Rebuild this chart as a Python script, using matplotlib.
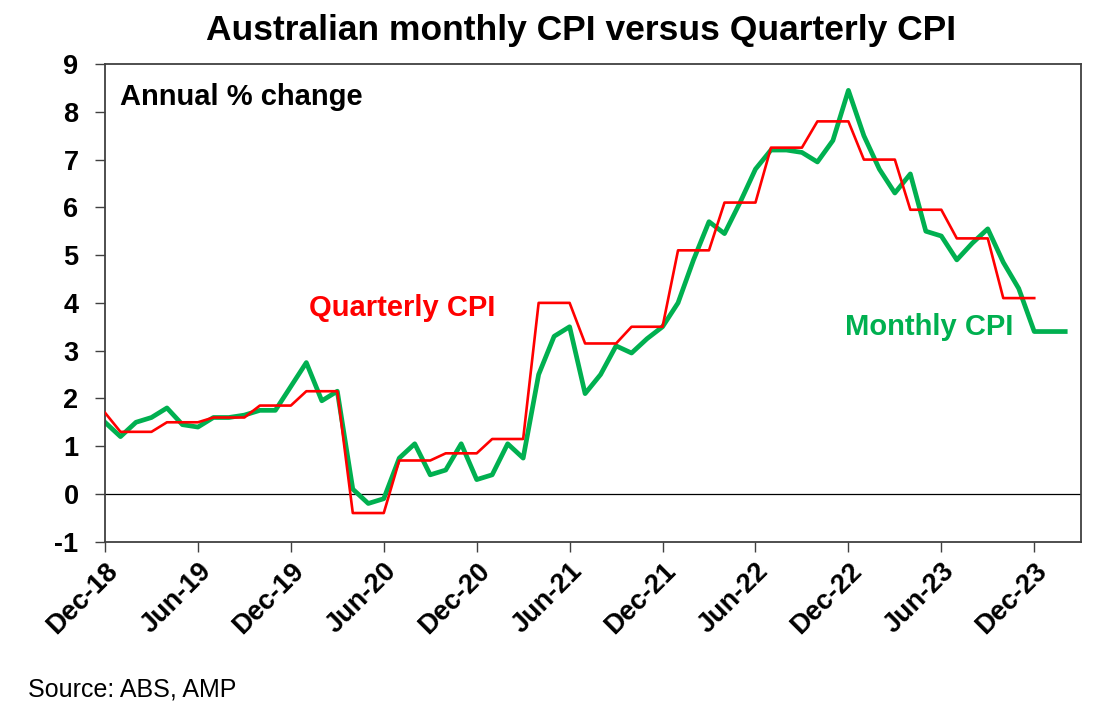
import matplotlib.pyplot as plt
import numpy as np

plt.rcParams['font.family'] = ['Liberation Sans', 'DejaVu Sans']
plt.rcParams['axes.unicode_minus'] = False

# monthly CPI indicator, annual % change, Dec-18 .. Feb-24
monthly_cpi = [
    1.5,                                                        # Dec-18
    1.2, 1.5, 1.6, 1.8, 1.45, 1.4, 1.6, 1.6, 1.65, 1.75, 1.75, 2.25,   # 2019
    2.75, 1.95, 2.15, 0.1, -0.2, -0.1, 0.75, 1.05, 0.4, 0.5, 1.05, 0.3,  # 2020
    0.4, 1.05, 0.75, 2.5, 3.3, 3.5, 2.1, 2.5, 3.1, 2.95, 3.25, 3.5,     # 2021
    4.0, 4.9, 5.7, 5.45, 6.1, 6.8, 7.2, 7.2, 7.15, 6.95, 7.4, 8.45,     # 2022
    7.5, 6.8, 6.3, 6.7, 5.5, 5.4, 4.9, 5.25, 5.55, 4.85, 4.3, 3.4,      # 2023
    3.4, 3.4,                                                   # 2024
]

# quarterly CPI, annual % change: Dec-18 then Mar-19 .. Dec-23
quarterly_cpi = [
    1.7,
    1.3, 1.5, 1.6, 1.85,
    2.15, -0.4, 0.7, 0.85,
    1.15, 4.0, 3.15, 3.5,
    5.1, 6.1, 7.25, 7.8,
    7.0, 5.95, 5.35, 4.1,
]

tick_labels = ['Dec-18', 'Jun-19', 'Dec-19', 'Jun-20', 'Dec-20', 'Jun-21',
               'Dec-21', 'Jun-22', 'Dec-22', 'Jun-23', 'Dec-23']

GREEN = '#00B050'
RED = '#FF0000'

# quarterly value held for each month of its quarter
q_monthly = np.concatenate([[quarterly_cpi[0]], np.repeat(quarterly_cpi[1:], 3)])
x_m = np.arange(len(monthly_cpi))
x_q = np.arange(len(q_monthly))

fig = plt.figure(figsize=(11.17, 7.15), dpi=100)
ax = fig.add_axes([0.094, 0.2424, 0.8735, 0.668])

ax.axhline(0, color='black', lw=0.9, zorder=1)
ax.plot(x_m, monthly_cpi, color=GREEN, lw=3.4, zorder=2)
ax.plot(x_q, q_monthly, color=RED, lw=1.9, zorder=3)

ax.set_xlim(0, 63)
ax.set_ylim(-1, 9)
ax.set_yticks(range(-1, 10))
ax.set_xticks(np.arange(0, 61, 6))
ax.set_xticklabels(tick_labels, rotation=45, ha='right', rotation_mode='anchor')

for lab in ax.get_xticklabels() + ax.get_yticklabels():
    lab.set_fontweight('bold')
ax.tick_params(axis='both', labelsize=19.5, direction='out', length=7,
               width=1.0, color='#404040')
ax.tick_params(axis='y', pad=12)
ax.tick_params(axis='x', pad=5)
for s in ax.spines.values():
    s.set_color('#404040')
    s.set_linewidth(1.3)

ax.text(0.015, 0.96, 'Annual % change', transform=ax.transAxes,
        fontsize=21, fontweight='bold', va='top', ha='left')
ax.text(13.2, 3.9, 'Quarterly CPI', color=RED, fontsize=21,
        fontweight='bold', va='center', ha='left')
ax.text(47.8, 3.5, 'Monthly CPI', color=GREEN, fontsize=21,
        fontweight='bold', va='center', ha='left')

fig.text(0.52, 0.957, 'Australian monthly CPI versus Quarterly CPI',
         fontsize=25.5, fontweight='bold', ha='center', va='center')
fig.text(0.025, 0.035, 'Source: ABS, AMP', fontsize=18, ha='left', va='center')

fig.savefig('out.png', dpi=100)
